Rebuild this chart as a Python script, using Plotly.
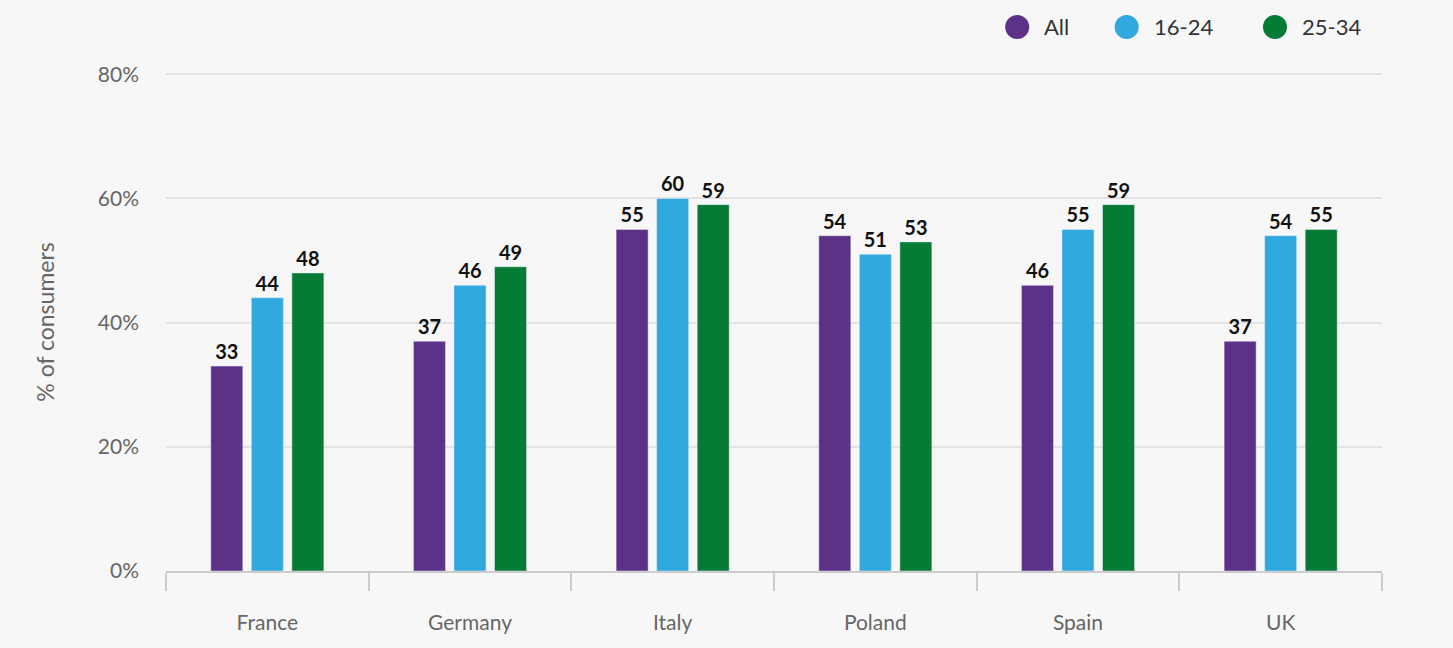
import plotly.graph_objects as go

# data
countries = ["France", "Germany", "Italy", "Poland", "Spain", "UK"]
all_vals = [33, 37, 55, 54, 46, 37]
age_16_24 = [44, 46, 60, 51, 55, 54]
age_25_34 = [48, 49, 59, 53, 59, 55]
series_names = ["All", "16-24", "25-34"]
colors = ["#5c3289", "#31a8de", "#067b36"]

fig = go.Figure()

for name, vals, col in zip(series_names, [all_vals, age_16_24, age_25_34], colors):
    fig.add_trace(go.Bar(x=countries, y=vals, name=name, marker_color=col,
                         text=vals, textposition="outside", cliponaxis=False,
                         textfont=dict(family="Lato", size=20, color="#111111", weight="bold"),
                         showlegend=False))

# legend drawn by hand so the circles can be as big as in the original
legend_x = [0.700, 0.790, 0.912]  # paper x of each circle
for name, col, lx in zip(series_names, colors, legend_x):
    fig.add_shape(type="circle", xref="paper", yref="paper",
                  xsizemode="pixel", ysizemode="pixel", xanchor=lx, yanchor=1.0924,
                  x0=-12, x1=12, y0=-12, y1=12, fillcolor=col, line_width=0)
    fig.add_annotation(text=name, xref="paper", yref="paper", x=lx, y=1.0924,
                       xanchor="left", yanchor="middle", xshift=25, showarrow=False,
                       font=dict(size=22, color="#333333"))

fig.update_layout(
    width=1453, height=648,
    paper_bgcolor="#f7f7f7", plot_bgcolor="#f7f7f7",
    margin=dict(l=166, r=71, t=73, b=77, autoexpand=False),
    barmode="group", bargap=0.40, bargroupgap=0.21,
    font=dict(family="Lato", color="#666666"),
    showlegend=False,
)
fig.update_xaxes(showline=True, linecolor="#cccccc", linewidth=2,
                 ticks="outside", tickson="boundaries", ticklen=18, tickcolor="#cccccc",
                 tickwidth=2, tickfont=dict(size=21, color="#666666"), showgrid=False,
                 ticklabelstandoff=32)
fig.update_yaxes(range=[0, 80.2], dtick=20, ticksuffix="%", showgrid=True,
                 gridcolor="#e3e3e3", gridwidth=1.5, zeroline=False,
                 tickfont=dict(size=21, color="#666666"), ticklabelstandoff=26,
                 title=dict(text="% of consumers", font=dict(size=23, color="#666666"), standoff=36))

fig.write_html("out.html", config={"displayModeBar": False},
               post_script="document.body.style.margin='0';")
